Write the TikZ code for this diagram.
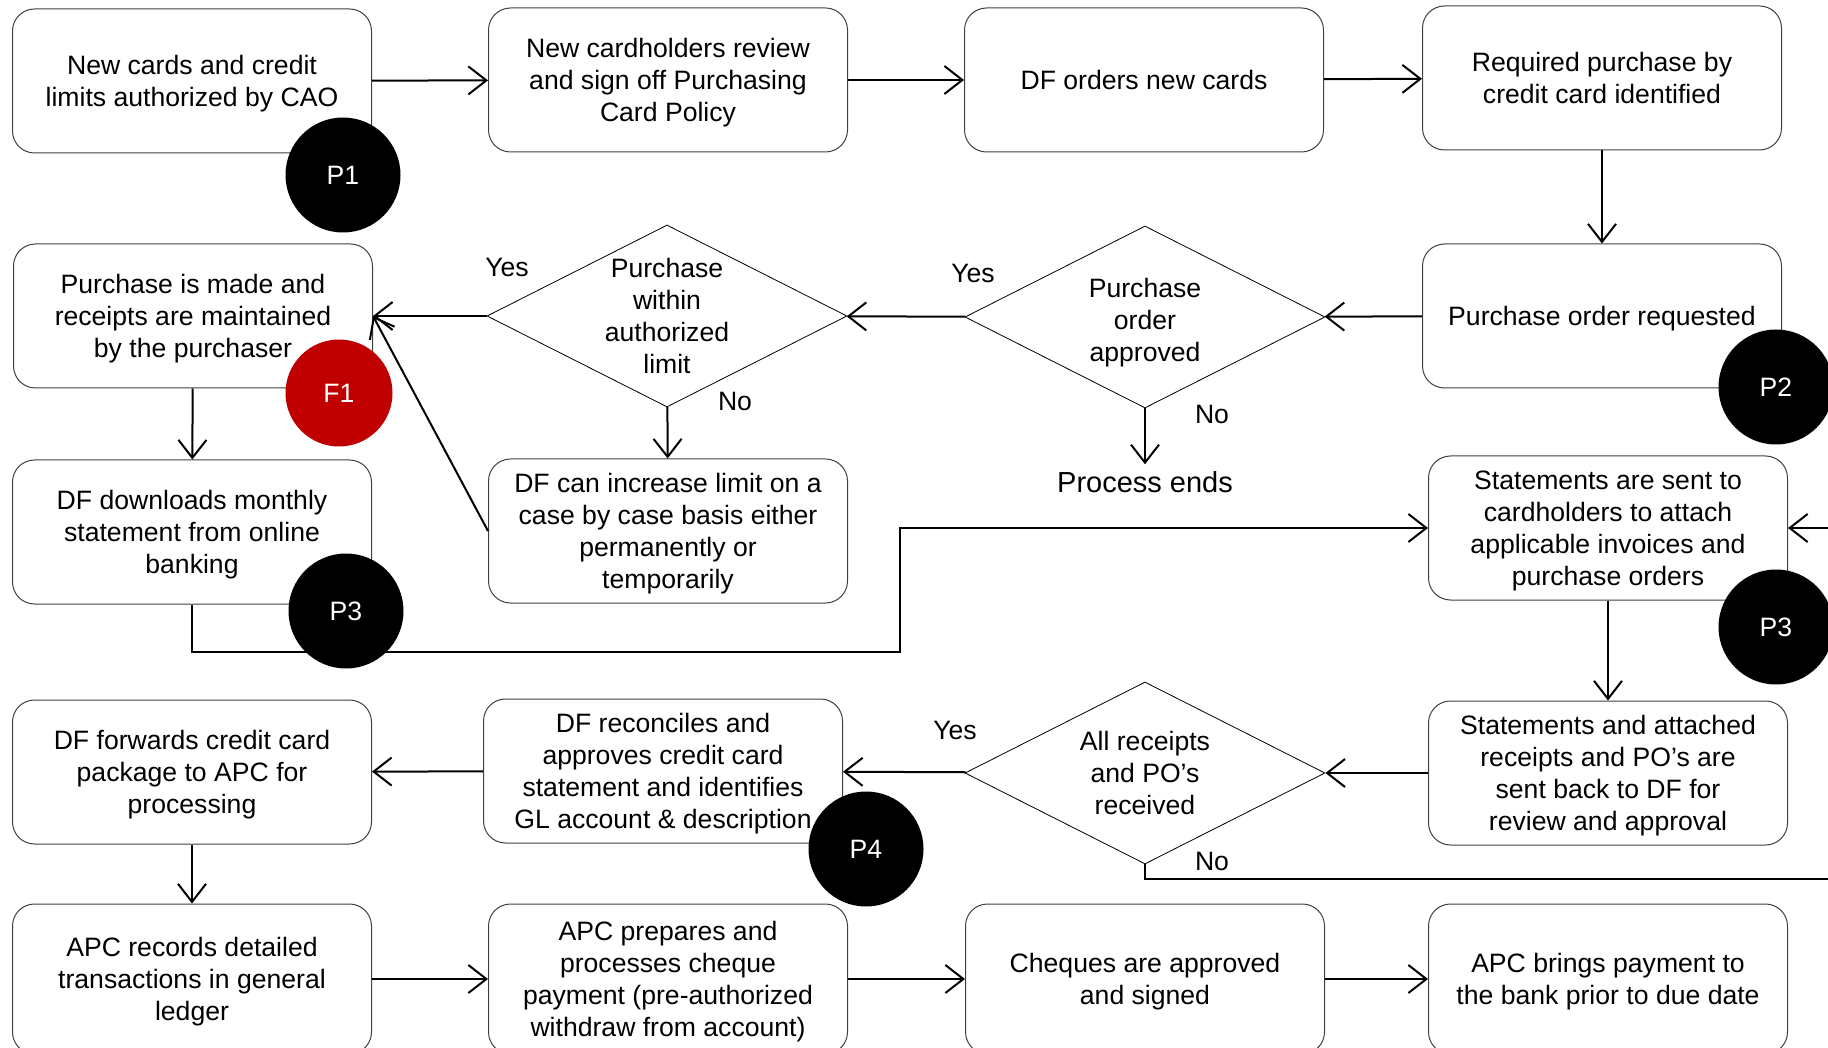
\documentclass[tikz,border=0pt]{standalone}
\usepackage{fontspec}
\setmainfont{Liberation Sans}
\usetikzlibrary{arrows.meta,positioning,shapes.geometric}
\definecolor{fred}{HTML}{C00000}
\definecolor{fline}{HTML}{404040}
\newcommand{\boxfont}{\fontsize{13.3pt}{16pt}\selectfont}
\tikzset{
  box/.style={draw=fline,fill=white,rounded corners=11pt,line width=0.5pt,align=center,minimum width=179.5pt,minimum height=72pt,inner sep=2pt,text depth=0pt,font=\boxfont},
  lastbox/.style={box,minimum height=75pt},
  dec/.style={diamond,draw=black,fill=white,line width=0.4pt,minimum width=180pt,minimum height=91pt,inner sep=0pt},
  dtxt/.style={align=center,font=\boxfont,inner sep=0pt,text depth=0pt},
  arr/.style={-{Straight Barb[length=9pt,width=14pt]},line width=1pt,draw=black},
  plain/.style={line width=1pt,draw=black},
  lbl/.style={font=\boxfont},
  pdot/.style={circle,fill=black,text=white,minimum size=57.5pt,inner sep=0pt,font=\boxfont},
  fdot/.style={pdot,fill=fred,minimum size=53.5pt},
}

\begin{document}
\begin{tikzpicture}[x=0.5pt,y=-0.5pt]
  \useasboundingbox (0,0) rectangle (1828,1048);
  % row 1
  \node[box] (a1) at (192,81) {New cards and credit\\limits authorized by CAO};
  \node[box] (a2) at (668,80) {New cardholders review\\and sign off Purchasing\\Card Policy};
  \node[box] (a3) at (1144,80) {DF orders new cards};
  \node[box] (a4) at (1602,78) {Required purchase by\\credit card identified};
  % row 2
  \node[box] (b1) at (193,316) {Purchase is made and\\receipts are maintained\\by the purchaser};
  \node[dec] (d1) at (667,316) {};
  \node[dtxt] at (d1) {Purchase\\within\\authorized\\limit};
  \node[dec] (d2) at (1145,317) {};
  \node[dtxt] at ([yshift=-1.5pt]d2.center) {Purchase\\order\\approved};
  \node[box] (b4) at (1602,316) {Purchase order requested};
  % row 3
  \node[box] (c1) at (192,532) {DF downloads monthly\\statement from online\\banking};
  \node[box] (c2) at (668,531) {DF can increase limit on a\\case by case basis either\\permanently or\\temporarily};
  \node[font=\fontsize{14.5pt}{17pt}\selectfont] (pe) at (1145,482) {Process ends};
  \node[box] (c4) at (1608,528) {Statements are sent to\\cardholders to attach\\applicable invoices and\\purchase orders};
  % row 4
  \node[box] (e1) at (192,772) {DF forwards credit card\\package to APC for\\processing};
  \node[box] (e2) at (663,771) {DF reconciles and\\approves credit card\\statement and identifies\\GL account \& description};
  \node[dec] (d3) at (1145,773) {};
  \node[dtxt] at (d3) {All receipts\\and PO’s\\received};
  \node[box] (e4) at (1608,773) {Statements and attached\\receipts and PO’s are\\sent back to DF for\\review and approval};
  % row 5
  \node[lastbox] (g1) at (192,979) {APC records detailed\\transactions in general\\ledger};
  \node[lastbox] (g2) at (668,979) {APC prepares and\\processes cheque\\payment (pre-authorized\\withdraw from account)};
  \node[lastbox] (g3) at (1145,979) {Cheques are approved\\and signed};
  \node[lastbox] (g4) at (1608,979) {APC brings payment to\\the bank prior to due date};

  % yes / no
  \node[lbl] (y1) at (507,267) {Yes};
  \node[lbl] (n1) at (735,401) {No};
  \node[lbl] (y2) at (973,273) {Yes};
  \node[lbl] (n2) at (1212,414) {No};
  \node[lbl] (y3) at (955,730) {Yes};
  \node[lbl] (n3) at (1212,861) {No};

  \coordinate (rin) at (1828,528);
  \coordinate (rout) at (1828,879);

  % connectors
  \draw[arr] (a1) -- (a2);
  \draw[arr] (a2) -- (a3);
  \draw[arr] (a3) -- (a4);
  \draw[arr] (a4) -- (b4);
  \draw[arr] (b4) -- (d2);
  \draw[arr] (d2) -- (d1);
  \draw[arr] (d2) -- (pe);
  \draw[arr] (d1) -- (b1);
  \draw[arr] (d1) -- (c2);
  \draw[arr] (c2.west) -- (b1.east);
  \draw[arr] (b1) -- (c1);
  \draw[arr] (c1.south) |- (900,652) |- (c4.west);
  \draw[arr] (rin) -- (c4.east);
  \draw[arr] (c4) -- (e4);
  \draw[arr] (e4) -- (d3);
  \draw[arr] (d3) -- (e2);
  \draw[plain] (d3.south) |- (rout);
  \draw[arr] (e2) -- (e1);
  \draw[arr] (e1) -- (g1);
  \draw[arr] (g1) -- (g2);
  \draw[arr] (g2) -- (g3);
  \draw[arr] (g3) -- (g4);

  % markers
  \node[pdot] (p1) at (343,175) {P1};
  \node[fdot] (f1) at (339,393) {F1};
  \node[pdot] (p3a) at (346,611) {P3};
  \node[pdot] (p2) at (1776,387) {P2};
  \node[pdot] (p3b) at (1776,627) {P3};
  \node[pdot] (p4) at (866,849) {P4};
\end{tikzpicture}
\end{document}
